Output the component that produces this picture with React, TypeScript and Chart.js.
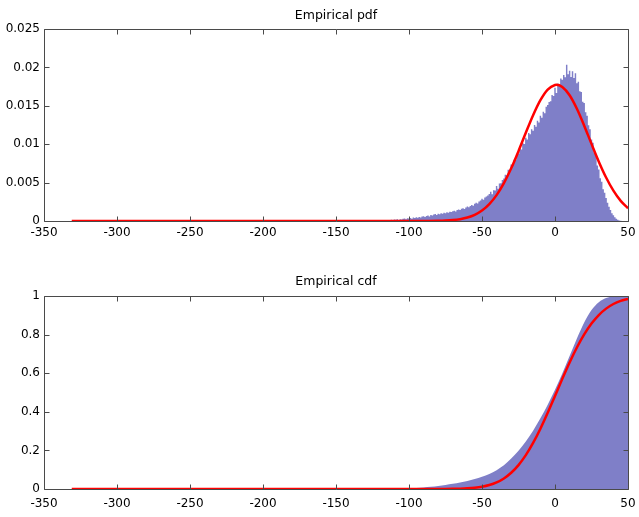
import { useEffect, useRef } from 'react';
import { Chart, registerables } from 'chart.js';

Chart.register(...registerables);

// ---- axis ticks ----
const X_TICKS = [-350, -300, -250, -200, -150, -100, -50, 0, 50];
const PDF_Y_TICKS = [0, 0.005, 0.01, 0.015, 0.02, 0.025];
const PDF_Y_LABELS = ['0', '0.005', '0.01', '0.015', '0.02', '0.025'];
const CDF_Y_TICKS = [0, 0.2, 0.4, 0.6, 0.8, 1];
const CDF_Y_LABELS = ['0', '0.2', '0.4', '0.6', '0.8', '1'];

// ---- histogram (density per unit-wide bin, first bin centred at -125) ----
const HIST_FIRST_CENTER = -125;
const HIST_BIN_WIDTH = 1;
const HIST_DENSITY = [
  0, 0.00004, 0, 0.00006, 0.00003, 0.00008, 0.00005, 0.00002, 0.00009, 0.00006,
  0.0001, 0.00014, 0.00007, 0.00016, 0.00012, 0.00019, 0.00015, 0.00022, 0.00013, 0.00024,
  0.0002, 0.00028, 0.00031, 0.00022, 0.00037, 0.00033, 0.0004, 0.00029, 0.00044, 0.00038,
  0.00048, 0.00041, 0.00053, 0.00046, 0.00058, 0.00062, 0.00051, 0.00066, 0.0007, 0.0006,
  0.00077, 0.00071, 0.00084, 0.0009, 0.00079, 0.00095, 0.00088, 0.00102, 0.00093, 0.00108,
  0.00101, 0.00115, 0.00106, 0.00122, 0.00118, 0.00127, 0.00134, 0.00125, 0.00142, 0.0015,
  0.00144, 0.00158, 0.00166, 0.00155, 0.00175, 0.00188, 0.00179, 0.00196, 0.00207, 0.00199,
  0.00225, 0.00238, 0.00229, 0.00255, 0.00268, 0.00289, 0.00277, 0.00305, 0.00318, 0.00331,
  0.00352, 0.00381, 0.00349, 0.00402, 0.00398, 0.00455, 0.00421, 0.00488, 0.00492, 0.00535,
  0.00552, 0.00601, 0.00596, 0.00668, 0.00654, 0.00735, 0.00731, 0.00798, 0.00795, 0.00866,
  0.00871, 0.00942, 0.00931, 0.01012, 0.01003, 0.01085, 0.01062, 0.01146, 0.01128, 0.01195,
  0.01176, 0.01251, 0.01228, 0.01306, 0.01281, 0.01372, 0.01345, 0.01421, 0.01402, 0.01488,
  0.01512, 0.01549, 0.01558, 0.01641, 0.01627, 0.01735, 0.01668, 0.01789, 0.01765, 0.01856,
  0.01838, 0.01902, 0.01871, 0.02035, 0.01912, 0.01958, 0.01874, 0.01951, 0.01862, 0.01925,
  0.01795, 0.01812, 0.01688, 0.01681, 0.01552, 0.01538, 0.01415, 0.01372, 0.01248, 0.01196,
  0.01062, 0.01018, 0.00891, 0.00849, 0.00722, 0.00671, 0.00558, 0.00512, 0.00415, 0.00368,
  0.00298, 0.00238, 0.00185, 0.00144, 0.00102, 0.00074, 0.00048, 0.00029, 0.00015, 0.00008,
  0.00004, 0.00001, 0,
];

// ---- fitted normal pdf ----
const PDF_FIT_X = [
  -331, -150, -120, -100, -90, -80, -75, -70, -65, -60, -55, -50, -45, -40, -35, -30, -25,
  -20, -15, -10, -5, 0, 1, 5, 10, 15, 20, 25, 30, 35, 40, 45, 50,
];
const PDF_FIT_Y = [
  0, 0, 0, 0.000001, 0.000005, 0.000027, 0.000059, 0.000122, 0.00024, 0.00045, 0.0008,
  0.00136, 0.0022, 0.00337, 0.00493, 0.00686, 0.0091, 0.01148, 0.01377, 0.01573, 0.01711,
  0.01771, 0.01773, 0.01745, 0.01637, 0.01461, 0.01241, 0.01004, 0.00772, 0.00566, 0.00395,
  0.00262, 0.00166,
];

// ---- cumulative distributions ----
const CDF_X = [
  -331, -150, -130, -125, -120, -115, -110, -105, -100, -95, -90, -85, -80, -75, -70, -65,
  -60, -55, -50, -45, -40, -35, -30, -25, -20, -15, -10, -5, 0, 5, 10, 15, 20, 25, 30, 35,
  40, 45, 50,
];
const CDF_EMPIRICAL = [
  0, 0, 0, 0.0001, 0.0003, 0.0006, 0.0013, 0.0022, 0.0037, 0.0057, 0.0083, 0.0117, 0.016,
  0.0208, 0.0266, 0.0333, 0.0415, 0.0512, 0.063, 0.078, 0.0975, 0.1225, 0.158, 0.198, 0.246,
  0.302, 0.366, 0.437, 0.514, 0.598, 0.689, 0.78, 0.863, 0.927, 0.968, 0.989, 0.9975, 0.9998, 1,
];
const CDF_FIT = [
  0, 0, 0, 0, 0, 0, 0, 0, 0, 0.00001, 0.00003, 0.00007, 0.00016, 0.00037, 0.0008, 0.0017,
  0.0034, 0.0064, 0.0117, 0.0205, 0.0342, 0.0548, 0.0841, 0.1239, 0.1754, 0.2385, 0.3124,
  0.3948, 0.4823, 0.5706, 0.6554, 0.733, 0.8007, 0.857, 0.9013, 0.9346, 0.9585, 0.9748, 0.9853,
];

const FILL_COLOR = 'rgb(127,127,200)';
const FIT_COLOR = '#ff0000';
const AXIS_COLOR = '#4a4a4a';
const FONT_FAMILY = "'DejaVu Sans', sans-serif";

// Boxed axes with inward tick marks on all four sides, plus the panel title.
const boxedAxes = {
  id: 'boxedAxes',
  afterDatasetsDraw(chart: any, _args: any, opts: any) {
    const { ctx, chartArea: a, scales } = chart;
    const xs = scales.x;
    const ys = scales.y;
    const L = Math.round(a.left) + 0.5;
    const R = Math.round(a.right) + 0.5;
    const T = Math.round(a.top) + 0.5;
    const B = Math.round(a.bottom) + 0.5;
    ctx.save();
    ctx.strokeStyle = AXIS_COLOR;
    ctx.lineWidth = 1;
    ctx.beginPath();
    ctx.rect(L, T, R - L, B - T);
    for (const v of X_TICKS) {
      const px = Math.round(xs.getPixelForValue(v)) + 0.5;
      ctx.moveTo(px, B);
      ctx.lineTo(px, B - 5);
      ctx.moveTo(px, T);
      ctx.lineTo(px, T + 5);
    }
    for (const t of ys.ticks) {
      const py = Math.round(ys.getPixelForValue(t.value)) + 0.5;
      ctx.moveTo(L, py);
      ctx.lineTo(L + 5, py);
      ctx.moveTo(R, py);
      ctx.lineTo(R - 5, py);
    }
    ctx.stroke();
    ctx.fillStyle = '#000';
    ctx.font = `12.5px ${FONT_FAMILY}`;
    ctx.textAlign = 'center';
    ctx.textBaseline = 'alphabetic';
    ctx.fillText(opts.text, (a.left + a.right) / 2, opts.baseline);
    ctx.restore();
  },
};

function makeScales(yTicks: number[], yLabels: string[], xPad: number, xHeight: number) {
  const font = { family: FONT_FAMILY, size: 12 };
  return {
    x: {
      type: 'linear' as const,
      min: -350,
      max: 50,
      grid: { display: false, drawTicks: false },
      border: { display: false },
      afterBuildTicks: (s: any) => {
        s.ticks = X_TICKS.map((v) => ({ value: v }));
      },
      afterFit: (s: any) => {
        s.height = xHeight;
        s.paddingLeft = 0;
        s.paddingRight = 0;
      },
      ticks: {
        autoSkip: false,
        maxRotation: 0,
        padding: xPad,
        color: '#000',
        font,
        callback: (v: any) => String(v),
      },
    },
    y: {
      type: 'linear' as const,
      min: yTicks[0],
      max: yTicks[yTicks.length - 1],
      grid: { display: false, drawTicks: false },
      border: { display: false },
      afterBuildTicks: (s: any) => {
        s.ticks = yTicks.map((v) => ({ value: v }));
      },
      afterFit: (s: any) => {
        s.width = 44;
        s.paddingTop = 0;
        s.paddingBottom = 0;
      },
      ticks: {
        autoSkip: false,
        padding: 4,
        color: '#000',
        font,
        callback: (_v: any, i: number) => yLabels[i],
      },
    },
  };
}

export default function App() {
  const pdfRef = useRef<HTMLCanvasElement>(null);
  const cdfRef = useRef<HTMLCanvasElement>(null);

  useEffect(() => {
    const histPoints = HIST_DENSITY.map((y, i) => ({
      x: HIST_FIRST_CENTER + i * HIST_BIN_WIDTH,
      y,
    }));
    const pdfFit = PDF_FIT_X.map((x, i) => ({ x, y: PDF_FIT_Y[i] }));
    const cdfEmp = CDF_X.map((x, i) => ({ x, y: CDF_EMPIRICAL[i] }));
    const cdfFit = CDF_X.map((x, i) => ({ x, y: CDF_FIT[i] }));

    const pdfChart = new Chart(pdfRef.current!, {
      type: 'line',
      data: {
        datasets: [
          {
            data: pdfFit,
            borderColor: FIT_COLOR,
            borderWidth: 2.5,
            pointRadius: 0,
            fill: false,
            cubicInterpolationMode: 'monotone',
            order: 0,
          },
          {
            data: histPoints,
            stepped: 'middle',
            fill: 'origin',
            backgroundColor: FILL_COLOR,
            borderColor: 'rgba(0,0,0,0)',
            borderWidth: 1,
            pointRadius: 0,
            order: 1,
          },
        ],
      },
      options: {
        responsive: false,
        animation: false,
        events: [],
        layout: { padding: { top: 29, right: 11, bottom: 0, left: 0 } },
        plugins: {
          legend: { display: false },
          tooltip: { enabled: false },
          boxedAxes: { text: 'Empirical pdf', baseline: 19 },
        } as any,
        scales: makeScales(PDF_Y_TICKS, PDF_Y_LABELS, 5, 37) as any,
      },
      plugins: [boxedAxes],
    });

    const cdfChart = new Chart(cdfRef.current!, {
      type: 'line',
      data: {
        datasets: [
          {
            data: cdfFit,
            borderColor: FIT_COLOR,
            borderWidth: 2.5,
            pointRadius: 0,
            fill: false,
            cubicInterpolationMode: 'monotone',
            order: 0,
          },
          {
            data: cdfEmp,
            fill: 'origin',
            backgroundColor: FILL_COLOR,
            borderColor: 'rgba(0,0,0,0)',
            borderWidth: 1,
            pointRadius: 0,
            cubicInterpolationMode: 'monotone',
            order: 1,
          },
        ],
      },
      options: {
        responsive: false,
        animation: false,
        events: [],
        layout: { padding: { top: 38, right: 11, bottom: 0, left: 0 } },
        plugins: {
          legend: { display: false },
          tooltip: { enabled: false },
          boxedAxes: { text: 'Empirical cdf', baseline: 27 },
        } as any,
        scales: makeScales(CDF_Y_TICKS, CDF_Y_LABELS, 8, 28) as any,
      },
      plugins: [boxedAxes],
    });

    return () => {
      pdfChart.destroy();
      cdfChart.destroy();
    };
  }, []);

  return (
    <div
      style={{
        position: 'fixed',
        left: 0,
        top: 0,
        width: 639,
        height: 517,
        background: '#fff',
      }}
    >
      <canvas
        ref={pdfRef}
        width={639}
        height={258}
        style={{ position: 'absolute', left: 0, top: 0, display: 'block' }}
      />
      <canvas
        ref={cdfRef}
        width={639}
        height={259}
        style={{ position: 'absolute', left: 0, top: 258, display: 'block' }}
      />
    </div>
  );
}
